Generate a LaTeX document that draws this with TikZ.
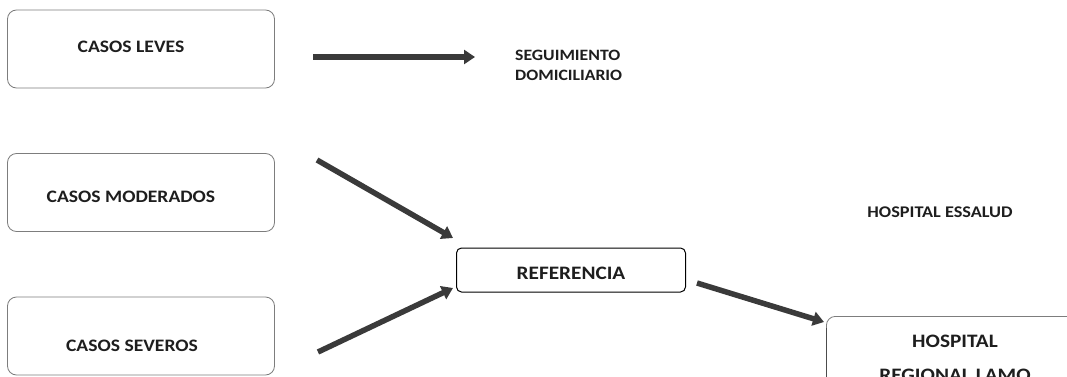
\documentclass[tikz,border=0pt]{standalone}
\usepackage{fontspec}
\setmainfont{Carlito}[FakeStretch=1.12]
\usetikzlibrary{arrows.meta}
\definecolor{boxgray}{RGB}{125,125,125}
\definecolor{arrowgray}{RGB}{58,58,58}
\definecolor{textgray}{RGB}{30,30,30}

\begin{document}
\begin{tikzpicture}[x=1pt,y=-1pt]
            \tikzset{caso/.style={draw=boxgray, rounded corners=9pt, line width=0.8pt, minimum width=267pt, minimum height=78pt},
                     rotulo/.style 2 args={text=textgray, inner sep=0pt, align=#1, font=\bfseries\fontsize{#2}{#2}\selectfont},
                     flecha/.style={draw=arrowgray, line width=5.5pt, -{Triangle[length=11pt,width=14pt]}}};
            \clip (0,0) rectangle (1067,377);
            \fill[white] (0,0) rectangle (1067,377);

            % casos
            \node[caso] (leves) at (141,49) {};
            \node[caso] (moderados) at (141,192.5) {};
            \node[caso] (severos) at (141,336) {};
            \node[rotulo={center}{17.5}] (leves txt) at (131,47) {CASOS LEVES};
            \node[rotulo={center}{17.5}] (moderados txt) at (131,197) {CASOS MODERADOS};
            \node[rotulo={center}{17.5}] (severos txt) at (132,346) {CASOS SEVEROS};

            \node[draw=black, rounded corners=5pt, line width=1pt, minimum width=229pt, minimum height=44pt] (ref) at (571,270) {};
            \node[rotulo={center}{19}] (ref txt) at (571,273) {REFERENCIA};

            \node[draw=boxgray, rounded corners=9pt, line width=0.8pt, minimum width=260pt, minimum height=120pt, anchor=north west] (regional) at (826,316) {};
            \draw[black!70, line width=1pt] ([yshift=-12pt]regional.north west)--(826,377);
            \node[rotulo={center}{19}, anchor=north, font=\bfseries\fontsize{19}{34}\selectfont] (regional txt) at (955,335) {HOSPITAL\\REGIONAL LAMO};

            \node[rotulo={left}{16}, anchor=north west, font=\bfseries\fontsize{15.8}{20}\selectfont] (seguimiento) at (515,50) {SEGUIMIENTO\\DOMICILIARIO};
            \node[rotulo={center}{16.3}] (essalud) at (940,212) {HOSPITAL ESSALUD};

            \coordinate (a1) at (313,57);
            \coordinate (a2) at (475,57);
            \coordinate (b1) at (317,160);
            \coordinate (b2) at (453,238);
            \coordinate (c1) at (318,352);
            \coordinate (c2) at (453,288);
            \coordinate (d1) at (697,283);
            \coordinate (d2) at (824,322);

            \draw[flecha] (a1)--(a2);
            \draw[flecha] (b1)--(b2);
            \draw[flecha] (c1)--(c2);
            \draw[flecha] (d1)--(d2);
        \end{tikzpicture}
\end{document}
